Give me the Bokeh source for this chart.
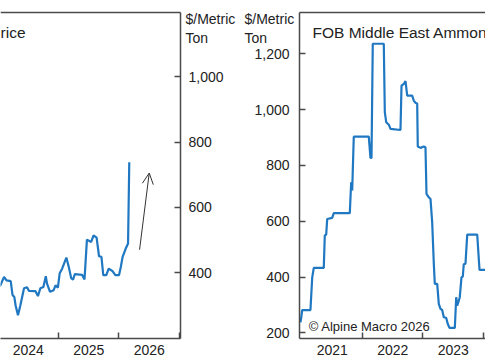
from bokeh.plotting import figure
from bokeh.layouts import row, column
from bokeh.models import (Range1d, FixedTicker, NumeralTickFormatter, Label,
                          Arrow, OpenHead)
from bokeh.embed import file_html
from bokeh.resources import INLINE

# ---------------- data ----------------
urea_title = "FOB Middle East Urea Price"
urea_x = [2023.95, 2024.04, 2024.10, 2024.14, 2024.21, 2024.24, 2024.27, 2024.29,
          2024.33, 2024.37, 2024.43, 2024.48, 2024.51, 2024.62, 2024.66, 2024.70,
          2024.75, 2024.79, 2024.81, 2024.86, 2024.92, 2024.95, 2024.99, 2025.02,
          2025.06, 2025.13, 2025.17, 2025.21, 2025.24, 2025.27, 2025.39, 2025.43,
          2025.47, 2025.54, 2025.58, 2025.63, 2025.67, 2025.71, 2025.74, 2025.79,
          2025.83, 2025.89, 2025.94, 2026.00, 2026.03, 2026.06, 2026.11, 2026.15,
          2026.17]
urea_y = [345, 361, 387, 376, 374, 331, 325, 300,
          269, 300, 352, 355, 344, 343, 328, 352,
          356, 389, 366, 341, 346, 361, 354, 398,
          412, 446, 417, 383, 378, 395, 393, 379,
          501, 494, 514, 507, 450, 448, 392, 392,
          412, 405, 392, 392, 417, 448, 473, 489,
          738]
urea_years = [2024, 2025, 2026]
urea_yticks = [400, 600, 800, 1000]
arrow_from = (2026.34, 470)
arrow_to = (2026.50, 705)

ammonia_title = "FOB Middle East Ammonia Price"
ammonia_x = [2020.975, 2020.987, 2021.003, 2021.14, 2021.169, 2021.195, 2021.36,
             2021.377, 2021.40, 2021.417, 2021.499, 2021.526, 2021.79, 2021.813,
             2021.83, 2021.856, 2022.104, 2022.132, 2022.149, 2022.17, 2022.352,
             2022.369, 2022.392, 2022.435, 2022.463, 2022.628, 2022.645, 2022.683,
             2022.711, 2022.739, 2022.821, 2022.848, 2022.88, 2022.904, 2022.914,
             2022.959, 2023.013, 2023.041, 2023.058, 2023.096, 2023.124, 2023.152,
             2023.179, 2023.195, 2023.235, 2023.261, 2023.289, 2023.317, 2023.344,
             2023.383, 2023.41, 2023.438, 2023.526, 2023.549, 2023.565, 2023.592,
             2023.608, 2023.636, 2023.658, 2023.674, 2023.702, 2023.731, 2023.896,
             2023.934, 2024.2]
ammonia_y = [238, 254, 282, 282, 398, 433, 433,
             549, 552, 608, 612, 629, 629, 740,
             710, 903, 903, 827, 827, 1236, 1236,
             991, 955, 946, 931, 927, 1086, 1092,
             1102, 1050, 1050, 1032, 1024, 1022, 868,
             863, 868, 865, 698, 686, 680, 596,
             447, 376, 376, 304, 286, 282, 256,
             254, 232, 218, 218, 328, 298, 316,
             328, 399, 402, 447, 447, 552, 552,
             426, 426]
ammonia_years = [2021, 2022, 2023]
ammonia_yticks = [200, 400, 600, 800, 1000, 1200]
unit_lines = ["$/Metric", "Ton"]
credit = "\u00a9 Alpine Macro 2026"

# ---------------- style / layout constants ----------------
BLUE = "#1f78c1"
AX = "#4a4a4a"
TXT = "#222222"
FONT = "Liberation Sans"
W, H = 485, 360
TOP, BOTTOM = 12, 22
W1 = 243                 # width of the left panel canvas
L_RIGHT_BORDER = 63      # room for the left panel's right-hand axis
R_LEFT_BORDER = 56       # room for the right panel's left-hand axis


def base_style(p):
    p.xgrid.visible = False
    p.ygrid.visible = False
    p.outline_line_color = None
    p.background_fill_color = "white"
    p.border_fill_color = "white"


def style_xaxis(p, years):
    ax = p.below[0]
    mids = [y + 0.5 for y in years]
    starts = [y + 1 for y in years]
    ax.ticker = FixedTicker(ticks=mids, minor_ticks=starts)
    ax.major_label_overrides = {m: str(y) for m, y in zip(mids, years)}
    ax.major_tick_in = 0
    ax.major_tick_out = 0
    ax.minor_tick_in = 6
    ax.minor_tick_out = 0
    ax.minor_tick_line_color = AX
    ax.minor_tick_line_width = 1.5
    ax.axis_line_color = AX
    ax.axis_line_width = 1.5
    ax.major_label_text_font = FONT
    ax.major_label_text_font_size = "14px"
    ax.major_label_text_color = TXT
    ax.major_label_standoff = 6


def style_yaxis(p, ticks, standoff):
    ax = p.yaxis[0]
    ax.ticker = FixedTicker(ticks=ticks)
    ax.formatter = NumeralTickFormatter(format="0,0")
    ax.major_tick_in = 6
    ax.major_tick_out = 0
    ax.minor_tick_line_color = None
    ax.major_tick_line_color = AX
    ax.major_tick_line_width = 1.5
    ax.axis_line_color = AX
    ax.axis_line_width = 1.5
    ax.major_label_text_font = FONT
    ax.major_label_text_font_size = "14px"
    ax.major_label_text_color = TXT
    ax.major_label_standoff = standoff


def text_label(p, x, y, text, size, align="left", units="screen"):
    p.add_layout(Label(x=x, y=y, x_units=units, y_units=units, text=text,
                       text_font=FONT, text_font_size=size, text_color=TXT,
                       text_align=align, text_baseline="alphabetic"))


# ---------------- left panel (urea) ----------------
left = figure(width=W1, height=H, title=None,
              x_range=Range1d(2024.041, 2027.017), y_range=Range1d(198, 1197),
              y_axis_location="right", output_backend="svg", toolbar_location=None,
              min_border_left=0, min_border_right=L_RIGHT_BORDER,
              min_border_top=TOP, min_border_bottom=BOTTOM)
style_xaxis(left, urea_years)
style_yaxis(left, urea_yticks, 8)
base_style(left)
left.line(urea_x, urea_y, line_color=BLUE, line_width=2.2)
left.add_layout(Arrow(end=OpenHead(size=11, line_color="#333333", line_width=1),
                      x_start=arrow_from[0], y_start=arrow_from[1],
                      x_end=arrow_to[0], y_end=arrow_to[1],
                      line_color="#333333", line_width=1))
text_label(left, 25, 306, urea_title, "15.5px", align="right")

# ---------------- right panel (ammonia) ----------------
W2 = W - W1
right = figure(width=W2, height=H, title=None,
               x_range=Range1d(2020.959, 2024.033), y_range=Range1d(180, 1348),
               y_axis_location="left", output_backend="svg", toolbar_location=None,
               min_border_left=R_LEFT_BORDER, min_border_right=0,
               min_border_top=TOP, min_border_bottom=BOTTOM)
style_xaxis(right, ammonia_years)
style_yaxis(right, ammonia_yticks, 10)
base_style(right)
right.line(ammonia_x, ammonia_y, line_color=BLUE, line_width=2.2)
text_label(right, 13, 306, ammonia_title, "15.5px")
text_label(right, 9.3, 12, credit, "13px")

# ---------------- transparent overlay: unit captions and frame tops ----------------
overlay = figure(width=W, height=H, title=None,
                 x_range=Range1d(0, W), y_range=Range1d(H, 0),
                 x_axis_location=None, y_axis_location=None,
                 output_backend="svg", toolbar_location=None, min_border=0,
                 margin=(-H, 0, 0, 0))
overlay.xgrid.visible = False
overlay.ygrid.visible = False
overlay.outline_line_color = None
overlay.background_fill_color = None
overlay.border_fill_color = None
frame_tops_x0 = [0, W1 + R_LEFT_BORDER]
frame_tops_x1 = [W1 - L_RIGHT_BORDER, W]
overlay.segment(x0=frame_tops_x0, y0=[TOP, TOP], x1=frame_tops_x1, y1=[TOP, TOP],
                line_color=AX, line_width=1.5)
for ux in (185, 244):
    text_label(overlay, ux, 18.5, unit_lines[0], "14px", units="data")
    text_label(overlay, ux, 37.5, unit_lines[1], "14px", units="data")

layout = column(row(left, right), overlay)

open("out.html", "w").write(file_html(layout, INLINE))
